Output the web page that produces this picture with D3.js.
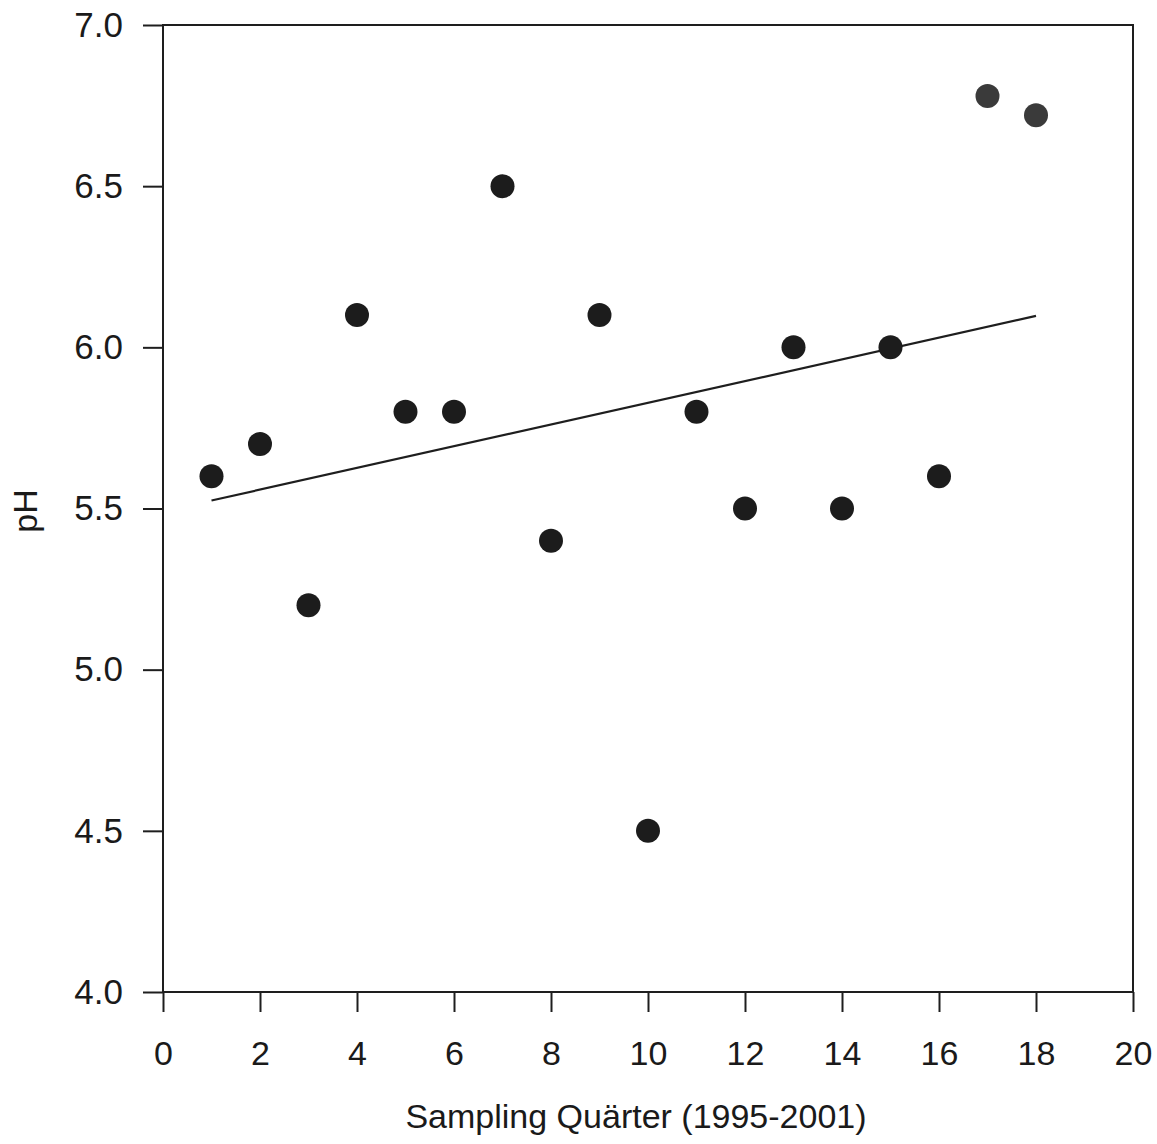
<!DOCTYPE html>
<html>
<head>
<meta charset="utf-8">
<script src="https://cdn.jsdelivr.net/npm/d3@7"></script>
<style>
  html, body { margin: 0; padding: 0; background: #ffffff; }
  svg { display: block; }
  text { font-family: "Liberation Sans", Arial, sans-serif; fill: #1a1a1a; }
</style>
</head>
<body>
<svg id="chart" width="1157" height="1144"></svg>
<script>
// ---- data ----
const quarters = [1, 2, 3, 4, 5, 6, 7, 8, 9, 10, 11, 12, 13, 14, 15, 16, 17, 18];
const pHValues = [5.6, 5.7, 5.2, 6.1, 5.8, 5.8, 6.5, 5.4, 6.1, 4.5, 5.8, 5.5, 6.0, 5.5, 6.0, 5.6, 6.78, 6.72];
const xTicks = [0, 2, 4, 6, 8, 10, 12, 14, 16, 18, 20];
const yTicks = [4.0, 4.5, 5.0, 5.5, 6.0, 6.5, 7.0];
const xDomain = [0, 20];
const yDomain = [4.0, 7.0];
const xTitle = "Sampling Quärter (1995-2001)";
const yTitle = "pH";

// ---- layout ----
const svg = d3.select("#chart");
const plotL = 163, plotT = 25, plotR = 1133, plotB = 992;
const x = d3.scaleLinear().domain(xDomain).range([plotL, plotR]);
const y = d3.scaleLinear().domain(yDomain).range([plotB, plotT]);
const ink = "#1e1e1e";

// frame
svg.append("rect")
  .attr("x", plotL).attr("y", plotT)
  .attr("width", plotR - plotL).attr("height", plotB - plotT)
  .attr("fill", "none").attr("stroke", ink).attr("stroke-width", 2);

// x axis
const gx = svg.append("g")
  .attr("transform", `translate(0,${plotB})`)
  .call(d3.axisBottom(x).tickValues(xTicks).tickSize(20).tickSizeOuter(0).tickPadding(29).tickFormat(d3.format("d")));
gx.select(".domain").remove();
gx.selectAll("line").attr("stroke", ink).attr("stroke-width", 2);
gx.selectAll("text").attr("font-size", 34).attr("fill", ink);

// y axis
const gy = svg.append("g")
  .attr("transform", `translate(${plotL},0)`)
  .call(d3.axisLeft(y).tickValues(yTicks).tickSize(20).tickSizeOuter(0).tickPadding(20).tickFormat(d3.format(".1f")));
gy.select(".domain").remove();
gy.selectAll("line").attr("stroke", ink).attr("stroke-width", 2);
gy.selectAll("text").attr("font-size", 35).attr("fill", ink);

// titles
svg.append("text")
  .attr("x", 636).attr("y", 1128)
  .attr("text-anchor", "middle")
  .attr("font-size", 34)
  .text(xTitle);

svg.append("text")
  .attr("transform", `translate(37,511) rotate(-90)`)
  .attr("text-anchor", "middle")
  .attr("font-size", 34)
  .text(yTitle);

// regression line computed from the data
const data = quarters.map((q, i) => ({ q, v: pHValues[i] }));
const mx = d3.mean(quarters), my = d3.mean(pHValues);
const sxy = d3.sum(data, d => (d.q - mx) * (d.v - my));
const sxx = d3.sum(data, d => (d.q - mx) ** 2);
const slope = sxy / sxx, intercept = my - slope * mx;
const ext = d3.extent(quarters);
svg.append("line")
  .attr("x1", x(ext[0])).attr("y1", y(intercept + slope * ext[0]))
  .attr("x2", x(ext[1])).attr("y2", y(intercept + slope * ext[1]))
  .attr("stroke", ink).attr("stroke-width", 2.2);

// points
svg.append("g").selectAll("circle")
  .data(data)
  .join("circle")
  .attr("cx", d => x(d.q))
  .attr("cy", d => y(d.v))
  .attr("r", 12)
  .attr("fill", d => d.q >= 17 ? "#3a3a3a" : "#1c1c1c");
</script>
</body>
</html>
